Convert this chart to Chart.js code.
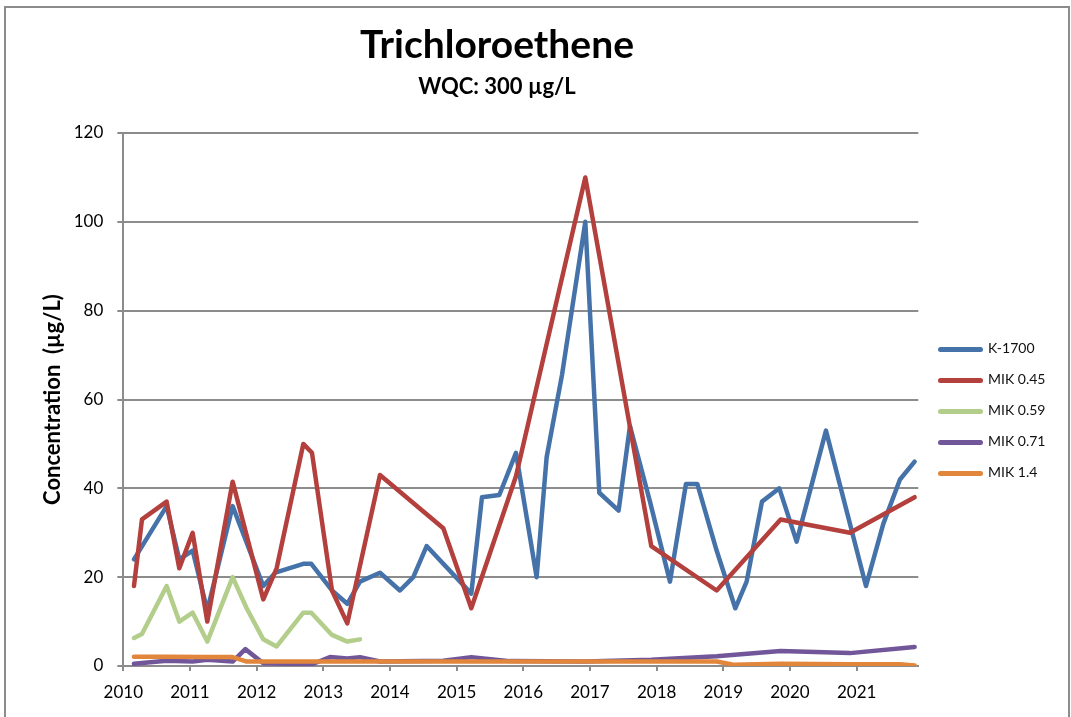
<!DOCTYPE html>
<html>
<head>
<meta charset="utf-8">
<title>Trichloroethene</title>
<script src="https://cdn.jsdelivr.net/npm/chart.js@4.4.0/dist/chart.umd.min.js"></script>
<style>
    body { margin: 0; background: #fff; }
    #wrap { position: relative; width: 1071px; height: 717px; overflow: hidden; font-family: Lato, sans-serif; }
    #frame { position: absolute; left: 4px; top: 6px; width: 1062px; height: 760px; border: 2px solid #8c8c8c; }
    #chart { position: absolute; left: 0; top: 0; }
    .head { position: absolute; left: 497px; transform: translateX(-50%); white-space: nowrap; font-weight: bold; color: #000; line-height: 1.2; }
    #title { top: 20px; font-size: 39px; }
    #subtitle { top: 73px; font-size: 22px; }
    .key { position: absolute; left: 938px; width: 45px; height: 5px; border-radius: 3px; }
    .keytext { position: absolute; left: 988px; font-size: 14px; line-height: 1.2; color: #111; white-space: nowrap; }
</style>
</head>
<body>
<div id="wrap">
    <div id="frame"></div>
    <canvas id="chart" width="1071" height="717"></canvas>
    <div class="head" id="title">Trichloroethene</div>
    <div class="head" id="subtitle">WQC: 300 µg/L</div>
    <div id="legend"></div>
</div>
<script>
// sample dates (decimal years) and concentrations (µg/L)
const k1700Dates = [2010.16, 2010.65, 2010.84, 2011.04, 2011.26, 2011.64, 2012.10, 2012.28, 2012.70, 2012.82,
    2013.13, 2013.36, 2013.55, 2013.85, 2014.15, 2014.35, 2014.55, 2015.22, 2015.38, 2015.64,
    2015.89, 2016.20, 2016.35, 2016.58, 2016.93, 2017.14, 2017.43, 2017.60, 2017.90, 2018.20,
    2018.44, 2018.61, 2018.90, 2019.18, 2019.35, 2019.58, 2019.84, 2020.10, 2020.54, 2021.14,
    2021.40, 2021.65, 2021.87];
const k1700Values = [24, 36, 24, 26, 12.5, 36, 18, 21, 23, 23,
    17, 14, 19, 21, 17, 20, 27, 16.3, 38, 38.5,
    48, 20, 47, 65.5, 100, 39, 35, 54, 37, 19,
    41, 41, 26, 13, 19, 37, 40, 28, 53, 18,
    32, 42, 46];

const mik045Dates = [2010.16, 2010.28, 2010.65, 2010.84, 2011.04, 2011.26, 2011.64, 2012.10, 2012.30, 2012.70,
    2012.83, 2013.13, 2013.36, 2013.85, 2014.80, 2015.22, 2015.89, 2016.93, 2017.92, 2018.90,
    2019.86, 2020.90, 2021.87];
const mik045Values = [18, 33, 37, 22, 30, 10, 41.5, 15, 22, 50,
    48, 17, 9.6, 43, 31, 13, 42.7, 110, 27, 17,
    33, 30, 38];

const mik059Dates = [2010.16, 2010.28, 2010.65, 2010.84, 2011.04, 2011.26, 2011.64, 2011.85, 2012.10, 2012.30,
    2012.70, 2012.82, 2013.13, 2013.36, 2013.55];
const mik059Values = [6.3, 7.2, 18, 10, 12, 5.5, 20, 13, 6, 4.4,
    12, 12, 7, 5.5, 6];

const mik071Dates = [2010.16, 2010.65, 2011.04, 2011.26, 2011.64, 2011.83, 2012.10, 2012.83, 2013.10, 2013.36,
    2013.55, 2013.85, 2014.80, 2015.22, 2015.80, 2016.93, 2017.92, 2018.90, 2019.86, 2020.90,
    2021.87];
const mik071Values = [0.5, 1.2, 1.0, 1.4, 1.0, 3.8, 0.6, 0.4, 2.0, 1.7,
    2.0, 1.0, 1.2, 2.0, 1.1, 1.0, 1.4, 2.2, 3.4, 2.9,
    4.3];

const mik14Dates = [2010.16, 2010.65, 2011.26, 2011.64, 2011.85, 2012.83, 2013.85, 2015.22, 2016.93, 2017.92,
    2018.90, 2019.15, 2019.86, 2020.90, 2021.65, 2021.87];
const mik14Values = [2.1, 2.1, 2.0, 2.0, 1.0, 1.0, 1.0, 1.0, 1.0, 1.0,
    1.0, 0.3, 0.5, 0.4, 0.4, 0.1];

const seriesNames = ['K-1700', 'MIK 0.45', 'MIK 0.59', 'MIK 0.71', 'MIK 1.4'];
const seriesDates = [k1700Dates, mik045Dates, mik059Dates, mik071Dates, mik14Dates];
const seriesValues = [k1700Values, mik045Values, mik059Values, mik071Values, mik14Values];
const seriesColors = ['#4573a9', '#b3403d', '#b3cd8b', '#71579a', '#e2863b'];

const xTicks = [2010, 2011, 2012, 2013, 2014, 2015, 2016, 2017, 2018, 2019, 2020, 2021];
const xMin = 2010;
const xMax = 2021.925;
const yTicks = [0, 20, 40, 60, 80, 100, 120];

const gridColor = '#8c8c8c';

Chart.defaults.font.family = 'Lato';

const datasets = seriesNames.map((name, i) => ({
    label: name,
    data: seriesDates[i].map((d, j) => ({ x: d, y: seriesValues[i][j] })),
    borderColor: seriesColors[i],
    backgroundColor: seriesColors[i],
    borderWidth: 4.5,
    borderCapStyle: 'round',
    borderJoinStyle: 'round',
    pointRadius: 0,
    tension: 0,
    fill: false,
    // excel draws later series on top
    order: seriesNames.length - i
}));

const ctx = document.getElementById('chart').getContext('2d');
const chart = new Chart(ctx, {
    type: 'line',
    data: { datasets: datasets },
    options: {
        responsive: false,
        animation: false,
        layout: { padding: { top: 133, left: 0, right: 152.7, bottom: 0 } },
        plugins: {
            legend: { display: false },
            title: { display: false },
            tooltip: { enabled: false }
        },
        scales: {
            x: {
                type: 'linear',
                min: xMin,
                max: xMax,
                afterBuildTicks: (scale) => {
                    scale.ticks = xTicks.map(v => ({ value: v }));
                },
                afterFit: (scale) => { scale.height = 51; },
                ticks: {
                    padding: 11,
                    color: '#000',
                    font: { size: 17 },
                    maxRotation: 0,
                    autoSkip: false,
                    callback: (v) => String(v)
                },
                grid: { drawOnChartArea: false, drawTicks: true, tickLength: 5, color: gridColor, lineWidth: 2 },
                border: { color: gridColor, width: 2 }
            },
            y: {
                min: yTicks[0],
                max: yTicks[yTicks.length - 1],
                afterBuildTicks: (scale) => {
                    scale.ticks = yTicks.map(v => ({ value: v }));
                },
                afterFit: (scale) => { scale.width = 123.3; },
                ticks: {
                    padding: 14,
                    color: '#000',
                    font: { size: 17 }
                },
                grid: { color: gridColor, lineWidth: 2, tickLength: 6 },
                border: { color: gridColor, width: 2 },
                title: {
                    display: true,
                    text: 'Concentration  (µg/L)',
                    color: '#000',
                    font: { size: 22, weight: 'bold' },
                    padding: { top: 40, bottom: 0 }
                }
            }
        }
    }
});

// legend, same look as the excel one
const legend = document.getElementById('legend');
seriesNames.forEach((name, i) => {
    const rowY = 349 + i * 31;
    const key = document.createElement('div');
    key.className = 'key';
    key.style.top = (rowY - 2.5) + 'px';
    key.style.background = seriesColors[i];
    legend.appendChild(key);
    const txt = document.createElement('div');
    txt.className = 'keytext';
    txt.style.top = (rowY - 9) + 'px';
    txt.textContent = name;
    legend.appendChild(txt);
});
</script>
</body>
</html>
